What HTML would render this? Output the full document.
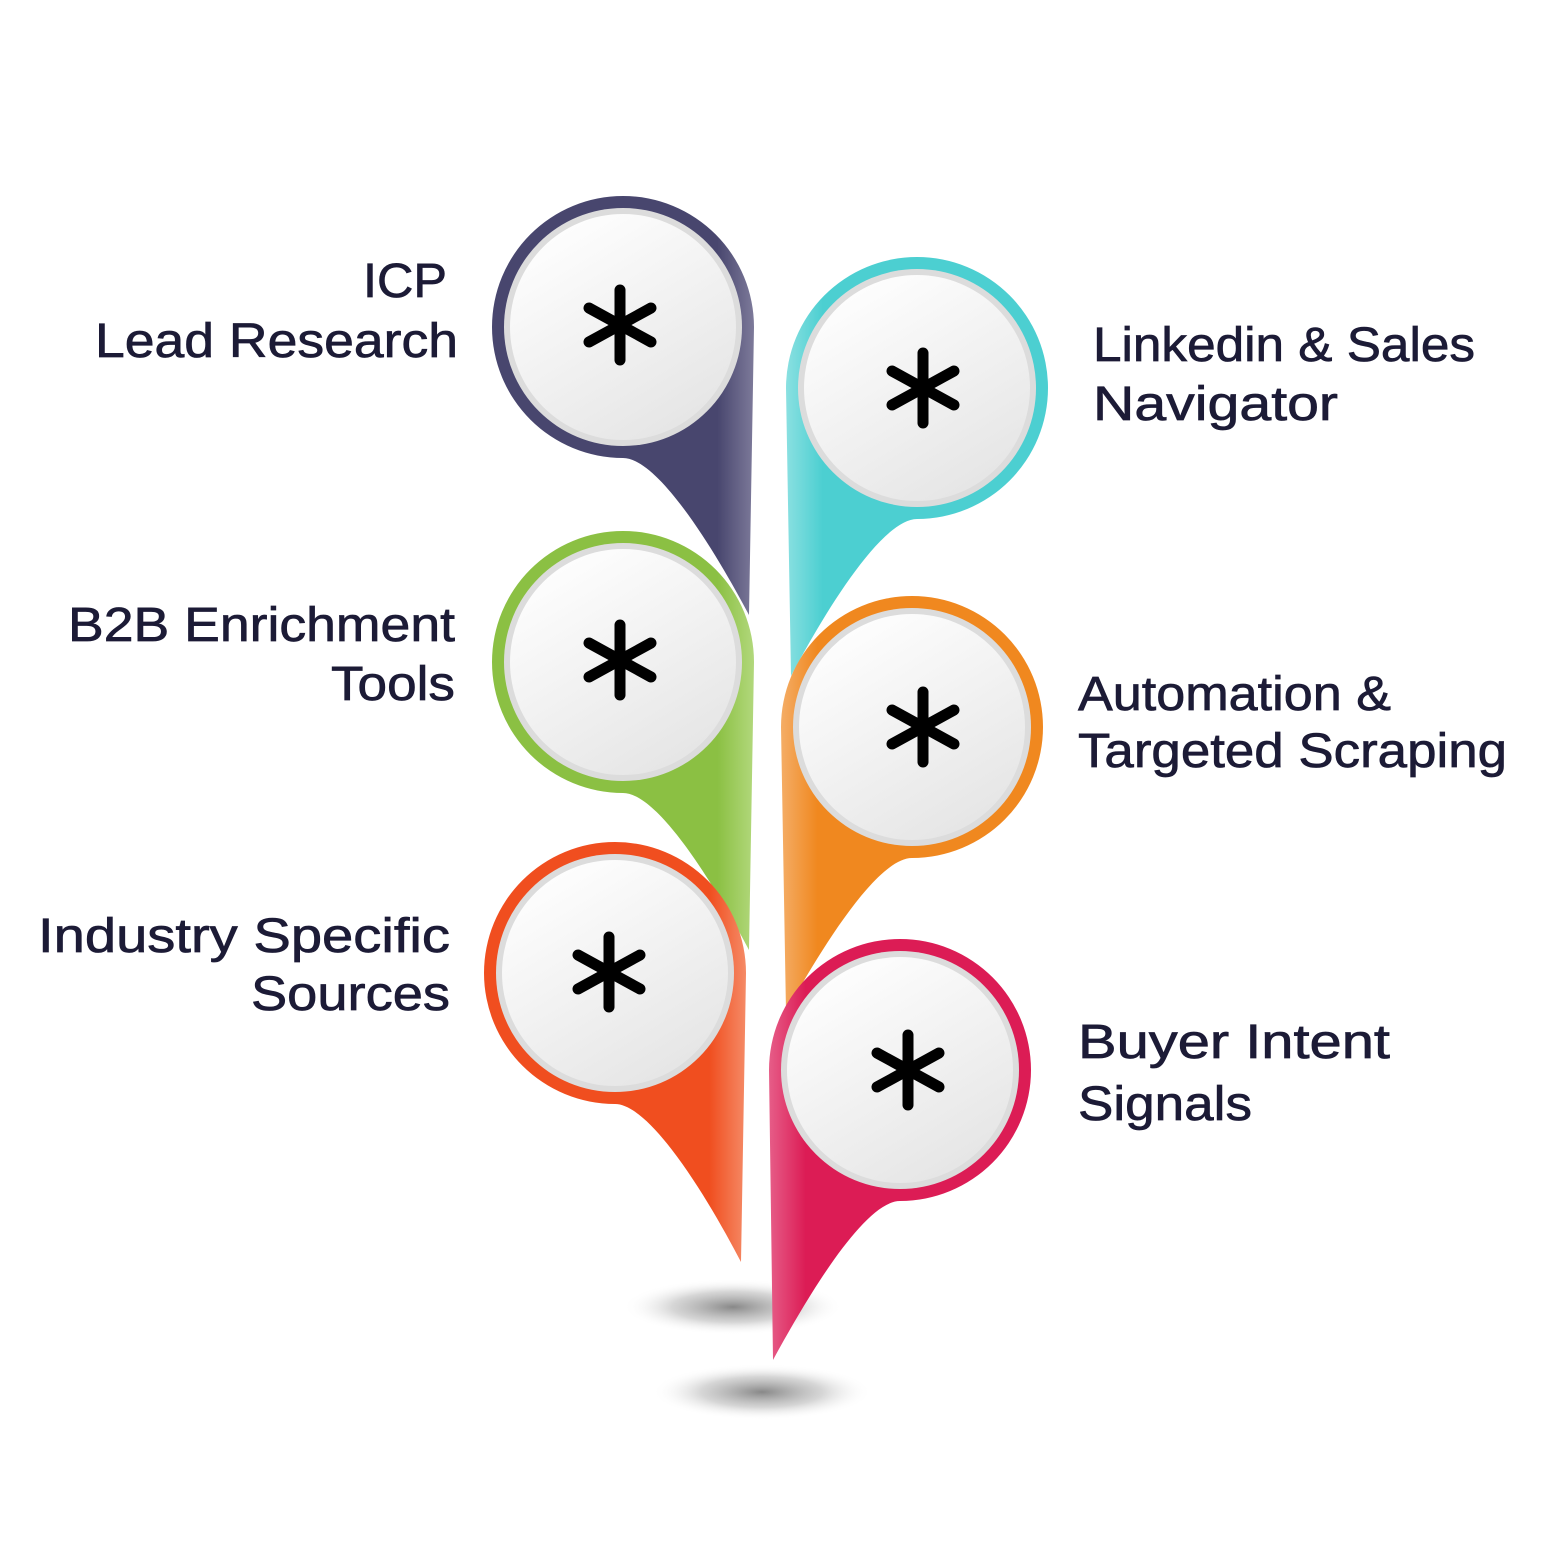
<!DOCTYPE html>
<html><head><meta charset="utf-8"><style>
html,body{margin:0;padding:0;background:#fff;}
svg{display:block;}
text{font-family:"Liberation Sans",sans-serif;font-size:48px;fill:#1c1b36;stroke:#1c1b36;stroke-width:0.7px;}
</style></head><body>
<svg width="1563" height="1563" viewBox="0 0 1563 1563" xmlns="http://www.w3.org/2000/svg">
<defs>
<radialGradient id="sh" cx="0.5" cy="0.5" r="0.5">
<stop offset="0" stop-color="#888"/><stop offset="0.55" stop-color="#c4c4c4" stop-opacity="0.7"/><stop offset="1" stop-color="#fff" stop-opacity="0"/>
</radialGradient>
<linearGradient id="disc" x1="0.2" y1="0" x2="0.8" y2="1">
<stop offset="0" stop-color="#ffffff"/><stop offset="1" stop-color="#e4e4e4"/>
</linearGradient>
<linearGradient id="gICP" gradientUnits="userSpaceOnUse" x1="623" y1="0" x2="754" y2="0"><stop offset="0.72" stop-color="#48466e"/><stop offset="1" stop-color="#7d7a9a"/></linearGradient>
<linearGradient id="gB2B" gradientUnits="userSpaceOnUse" x1="623" y1="0" x2="754" y2="0"><stop offset="0.72" stop-color="#8bc043"/><stop offset="1" stop-color="#b2d87c"/></linearGradient>
<linearGradient id="gIND" gradientUnits="userSpaceOnUse" x1="615" y1="0" x2="746" y2="0"><stop offset="0.72" stop-color="#f04e1f"/><stop offset="1" stop-color="#f58a66"/></linearGradient>
<linearGradient id="gLNK" gradientUnits="userSpaceOnUse" x1="917" y1="0" x2="786" y2="0"><stop offset="0.72" stop-color="#4ccfd1"/><stop offset="1" stop-color="#8ae0e1"/></linearGradient>
<linearGradient id="gAUT" gradientUnits="userSpaceOnUse" x1="912" y1="0" x2="781" y2="0"><stop offset="0.72" stop-color="#f0881f"/><stop offset="1" stop-color="#f4ad66"/></linearGradient>
<linearGradient id="gBUY" gradientUnits="userSpaceOnUse" x1="900" y1="0" x2="769" y2="0"><stop offset="0.72" stop-color="#dc1c55"/><stop offset="1" stop-color="#e65d88"/></linearGradient>
<g id="ast" stroke="#000" stroke-width="11" stroke-linecap="round" fill="none">
<line x1="0" y1="-35" x2="0" y2="35"/>
<line x1="-31" y1="-17" x2="31" y2="17"/>
<line x1="-31" y1="17" x2="31" y2="-17"/>
</g>
<g id="face">
<circle r="119" fill="#dcdcdc"/>
<circle r="113" fill="url(#disc)"/>
</g>
</defs>

<ellipse cx="733" cy="1307" rx="110" ry="28" fill="url(#sh)"/>
<ellipse cx="762" cy="1392" rx="110" ry="28" fill="url(#sh)"/>

<path d="M623,458 A131,131 0 1 1 754,327 L749,615 C720,560 660,458 623,458 Z" fill="url(#gICP)"/>
<use href="#face" x="623" y="327"/><use href="#ast" x="620" y="325"/>
<path d="M623,793 A131,131 0 1 1 754,662 L749,950 C720,895 660,793 623,793 Z" fill="url(#gB2B)"/>
<use href="#face" x="623" y="662"/><use href="#ast" x="620" y="660"/>
<path d="M615,1104 A131,131 0 1 1 746,973 L741,1262 C712,1206 652,1104 615,1104 Z" fill="url(#gIND)"/>
<use href="#face" x="615" y="973"/><use href="#ast" x="609" y="972"/>

<path d="M917,519 A131,131 0 1 0 786,388 L791,676 C820,621 880,519 917,519 Z" fill="url(#gLNK)"/>
<use href="#face" x="917" y="388"/><use href="#ast" x="923" y="388"/>
<path d="M912,858 A131,131 0 1 0 781,727 L786,1012 C815,960 875,858 912,858 Z" fill="url(#gAUT)"/>
<use href="#face" x="912" y="727"/><use href="#ast" x="923" y="727"/>
<path d="M900,1201 A131,131 0 1 0 769,1070 L773,1360 C803,1305 863,1201 900,1201 Z" fill="url(#gBUY)"/>
<use href="#face" x="900" y="1070"/><use href="#ast" x="908" y="1070"/>

<text x="363" y="297" textLength="84" lengthAdjust="spacingAndGlyphs">ICP</text>
<text x="95" y="357" textLength="363" lengthAdjust="spacingAndGlyphs">Lead Research</text>
<text x="68" y="641" textLength="387" lengthAdjust="spacingAndGlyphs">B2B Enrichment</text>
<text x="331" y="700" textLength="124" lengthAdjust="spacingAndGlyphs">Tools</text>
<text x="38" y="952" textLength="412" lengthAdjust="spacingAndGlyphs">Industry Specific</text>
<text x="251" y="1010" textLength="199" lengthAdjust="spacingAndGlyphs">Sources</text>
<text x="1093" y="361" textLength="382" lengthAdjust="spacingAndGlyphs">Linkedin &amp; Sales</text>
<text x="1093" y="420" textLength="245" lengthAdjust="spacingAndGlyphs">Navigator</text>
<text x="1078" y="710" textLength="313" lengthAdjust="spacingAndGlyphs">Automation &amp;</text>
<text x="1078" y="767" textLength="429" lengthAdjust="spacingAndGlyphs">Targeted Scraping</text>
<text x="1078" y="1058" textLength="312" lengthAdjust="spacingAndGlyphs">Buyer Intent</text>
<text x="1078" y="1120" textLength="174" lengthAdjust="spacingAndGlyphs">Signals</text>
</svg>
</body></html>
